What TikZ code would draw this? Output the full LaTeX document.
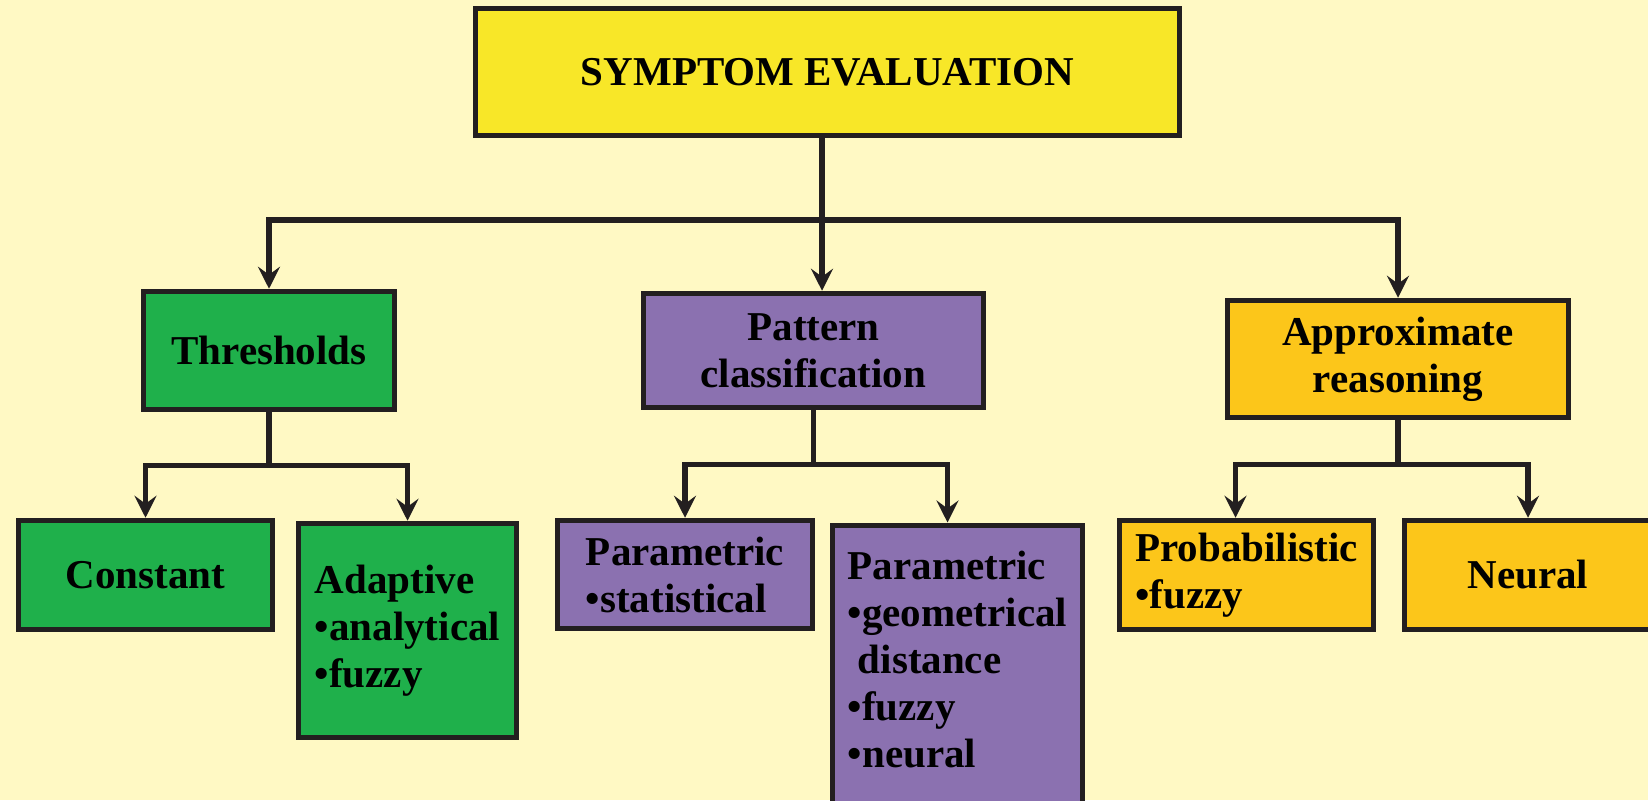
\documentclass[tikz,border=0pt]{standalone}
\usepackage{fontspec}
\setmainfont{Liberation Serif}
\usepackage{tikz}
\usetikzlibrary{positioning, arrows.meta, calc}
\definecolor{bgyellow}{RGB}{255,249,196}
\definecolor{evalyellow}{RGB}{248,231,40}
\definecolor{threshgreen}{RGB}{31,176,75}
\definecolor{patternpurple}{RGB}{139,113,176}
\definecolor{approxgold}{RGB}{252,198,26}
\definecolor{inkblack}{RGB}{35,31,32}
\tikzset{
  evalbox/.style={rectangle, minimum width=704pt, minimum height=126pt, text centered, draw=inkblack, line width=5pt, fill=evalyellow},
  threshbox/.style={rectangle, align=center, draw=inkblack, line width=5.5pt, fill=threshgreen},
  patternbox/.style={rectangle, align=center, draw=inkblack, line width=5.5pt, fill=patternpurple},
  approxbox/.style={rectangle, align=center, draw=inkblack, line width=5.5pt, fill=approxgold},
  link/.style={line width=5.5pt, draw=inkblack},
  arrow/.style={link, -{Stealth[length=22pt, width=22pt, inset=8pt]}}
}

\begin{document}
\begin{tikzpicture}[x=1pt, y=-1pt, every node/.style={font=\fontsize{41}{47}\selectfont\bfseries}]
  \fill [bgyellow] (0,0) rectangle (1648,800);
  \useasboundingbox (0,0) rectangle (1648,800);

  \node (eval1) [evalbox] at (827.5,72) {SYMPTOM EVALUATION};
  \node (thresh1) [threshbox, minimum width=251pt, minimum height=118pt] at (269,350.5) {Thresholds};
  \node (pattern1) [patternbox, minimum width=340pt, minimum height=114pt] at (813.5,350.5) {Pattern\\classification};
  \node (approx1) [approxbox, minimum width=341pt, minimum height=117pt] at (1398,359) {Approximate\\reasoning};

  \node (const1) [threshbox, minimum width=254pt, minimum height=109pt] at (145.5,575) {Constant};
  \node (adapt1) [threshbox, align=left, minimum width=218pt, minimum height=214pt] at (407.5,630.5) {Adaptive\\•analytical\\•fuzzy};
  \node (param1) [patternbox, align=left, minimum width=255pt, minimum height=108pt] at (685,574.5) {Parametric\\•statistical};
  \node (param2) [patternbox, align=left, anchor=north, minimum width=250pt, inner ysep=26pt, text depth=280pt] at (957.5,522.5) {Parametric\\•geometrical\\\hspace*{10pt}distance\\•fuzzy\\•neural};
  \node (prob1) [approxbox, align=left, minimum width=254pt, minimum height=109pt] at (1246.5,575) {Probabilistic\\•fuzzy};
  \node (neural1) [approxbox, minimum width=247pt, minimum height=109pt] at (1528,575) {Neural};

  % first level
  \coordinate (bus0) at (822,220);
  \draw [link] (eval1.south -| bus0) -- (bus0);
  \draw [arrow] (bus0) -| (thresh1.north);
  \draw [arrow] (bus0) -- (bus0 |- pattern1.north);
  \draw [arrow] (bus0) -| (approx1.north);

  % second level
  \draw [arrow] (thresh1.south) -- ++(0,53) -| (const1.north);
  \draw [arrow] (thresh1.south) -- ++(0,53) -| (adapt1.north);
  \draw [arrow] (pattern1.south) -- ++(0,54) -| (param1.north);
  \draw [arrow] (pattern1.south) -- ++(0,54) -| ([xshift=-10pt]param2.north);
  \draw [arrow] (approx1.south) -- ++(0,44) -| ([xshift=-11pt]prob1.north);
  \draw [arrow] (approx1.south) -- ++(0,44) -| (neural1.north);
\end{tikzpicture}
\end{document}
